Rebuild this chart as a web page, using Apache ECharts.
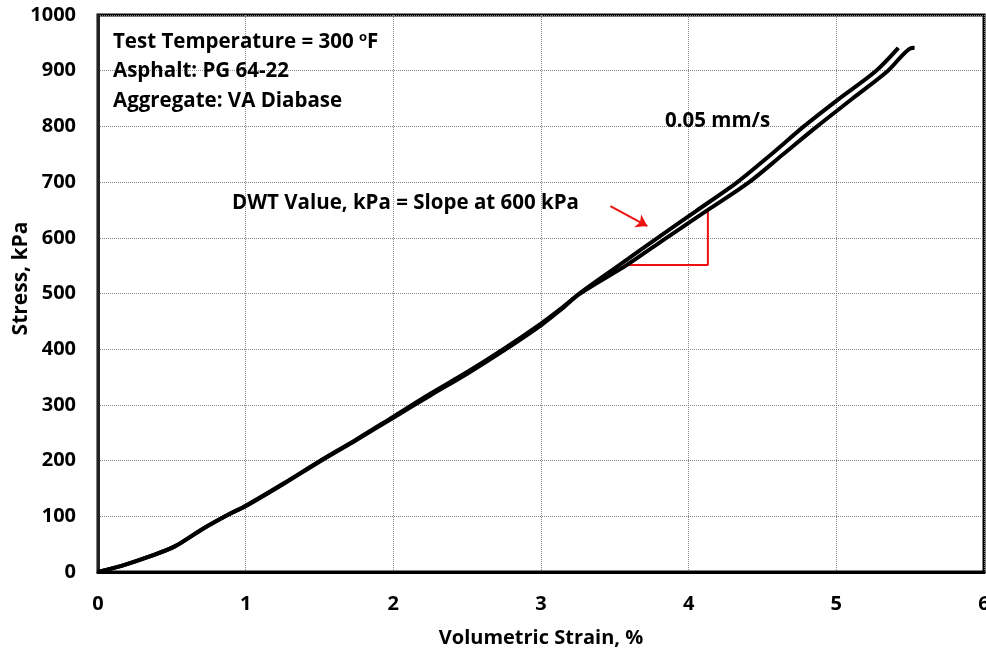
<!DOCTYPE html>
<html>
<head>
<meta charset="utf-8">
<script src="https://cdn.jsdelivr.net/npm/echarts@6/dist/echarts.min.js"></script>
<style>
  html, body { margin: 0; padding: 0; background: #fff; }
  #chart { width: 986px; height: 652px; }
</style>
</head>
<body>
<div id="chart"></div>
<script>
// Axis ticks
const strainTicks = [0, 1, 2, 3, 4, 5, 6];
const stressTicks = [0, 100, 200, 300, 400, 500, 600, 700, 800, 900, 1000];

// Stress–strain curves (volumetric strain %, stress kPa)
const strainA = [0, 0.17, 0.35, 0.52, 0.7, 0.89, 1.0, 1.25, 1.5, 1.75, 2.0, 2.25, 2.5, 2.75, 3.0, 3.13, 3.26,
                 3.53, 3.79, 4.05, 4.33, 4.56, 4.78, 5.02, 5.27, 5.42];
const stressA = [0, 12, 28, 46, 76, 104, 119, 158, 199, 238, 279, 320, 359, 401, 446, 472, 500,
                 551, 600, 648, 700, 750, 800, 850, 900, 941];

const strainB = [0, 0.17, 0.35, 0.52, 0.7, 0.89, 1.0, 1.25, 1.5, 1.75, 2.0, 2.25, 2.5, 2.75, 3.0, 3.13, 3.26,
                 3.58, 3.85, 4.13, 4.41, 4.64, 4.87, 5.11, 5.35, 5.50, 5.53];
const stressB = [0, 12, 28, 46, 76, 104, 118, 157, 198, 237, 277, 317, 356, 398, 443, 470, 499,
                 551, 600, 650, 700, 750, 800, 850, 900, 940, 941];

// Slope triangle drawn at 600 kPa
const slopeStrain = [3.58, 4.13, 4.13];
const slopeStress = [551, 551, 650];

// Pointer arrow to the curve
const arrowStrain = [3.47, 3.72];
const arrowStress = [657, 621];

const pairs = (xs, ys) => xs.map((x, i) => [x, ys[i]]);

const FONT = '"Open Sans", "Noto Sans", sans-serif';
const annot = { fontFamily: FONT, fontWeight: 'bold', fontSize: 20.5, fill: '#000', verticalAlign: 'middle' };

const chart = echarts.init(document.getElementById('chart'));
chart.setOption({
  animation: false,
  backgroundColor: '#fff',
  grid: {
    left: 98, right: 2, top: 15, bottom: 80,
    containLabel: false, outerBoundsMode: 'none',
    show: true, borderColor: '#000', borderWidth: 3
  },
  xAxis: {
    type: 'value', min: strainTicks[0], max: strainTicks[strainTicks.length - 1], interval: 1,
    name: 'Volumetric Strain, %', nameLocation: 'middle', nameGap: 56, nameMoveOverlap: false,
    nameTextStyle: { fontFamily: FONT, fontWeight: 'bold', fontSize: 20, color: '#000' },
    axisLine: { show: true, lineStyle: { color: '#000', width: 3 } },
    axisTick: { show: false },
    axisLabel: { margin: 22, fontFamily: FONT, fontWeight: 'bold', fontSize: 20, color: '#000',
                 formatter: v => String(v) },
    splitLine: { show: true, lineStyle: { type: 'dotted', color: '#888', width: 1 } }
  },
  yAxis: {
    type: 'value', min: stressTicks[0], max: stressTicks[stressTicks.length - 1], interval: 100,
    name: 'Stress, kPa', nameLocation: 'middle', nameGap: 66, nameRotate: 90, nameMoveOverlap: false,
    nameTextStyle: { fontFamily: FONT, fontWeight: 'bold', fontSize: 21, color: '#000', padding: [0, 0, 0, 30] },
    axisLine: { show: true, lineStyle: { color: '#222', width: 3 } },
    axisTick: { show: false },
    axisLabel: { margin: 22, fontFamily: FONT, fontWeight: 'bold', fontSize: 20, color: '#000',
                 formatter: v => String(v) },
    splitLine: { show: true, lineStyle: { type: 'dotted', color: '#888', width: 1 } }
  },
  series: [
    {
      name: 'slope', type: 'line', data: pairs(slopeStrain, slopeStress), showSymbol: false, symbol: 'none',
      lineStyle: { color: '#ee1111', width: 2 }, z: 2, silent: true,
      markLine: {
        silent: true, symbol: ['none', 'arrow'], symbolSize: 11,
        lineStyle: { color: '#ee1111', width: 2, type: 'solid' }, label: { show: false },
        data: [[{ coord: [arrowStrain[0], arrowStress[0]] }, { coord: [arrowStrain[1], arrowStress[1]] }]]
      }
    },
    {
      name: 'A', type: 'line', data: pairs(strainA, stressA), symbol: 'none', smooth: 0.3,
      lineStyle: { color: '#000', width: 4 }, z: 3
    },
    {
      name: 'B', type: 'line', data: pairs(strainB, stressB), symbol: 'none', smooth: 0.3,
      lineStyle: { color: '#000', width: 4 }, z: 3
    }
  ],
  graphic: [
    { type: 'text', x: 113, y: 42, z: 10, style: Object.assign({}, annot, {
        text: 'Test Temperature = 300 {sup|o}F',
        rich: { sup: { fontFamily: FONT, fontWeight: 'bold', fontSize: 13, fill: '#000', padding: [0, 0, 9, 0] } }
      }) },
    { type: 'text', x: 113, y: 71.5, z: 10, style: Object.assign({}, annot, { text: 'Asphalt: PG 64-22' }) },
    { type: 'text', x: 113, y: 101.5, z: 10, style: Object.assign({}, annot, { text: 'Aggregate: VA Diabase' }) },
    { type: 'text', x: 665, y: 121, z: 10, style: Object.assign({}, annot, { text: '0.05 mm/s' }) },
    { type: 'text', x: 232, y: 203, z: 10, style: Object.assign({}, annot, { text: 'DWT Value, kPa = Slope at 600 kPa' }) }
  ]
});
</script>
</body>
</html>
